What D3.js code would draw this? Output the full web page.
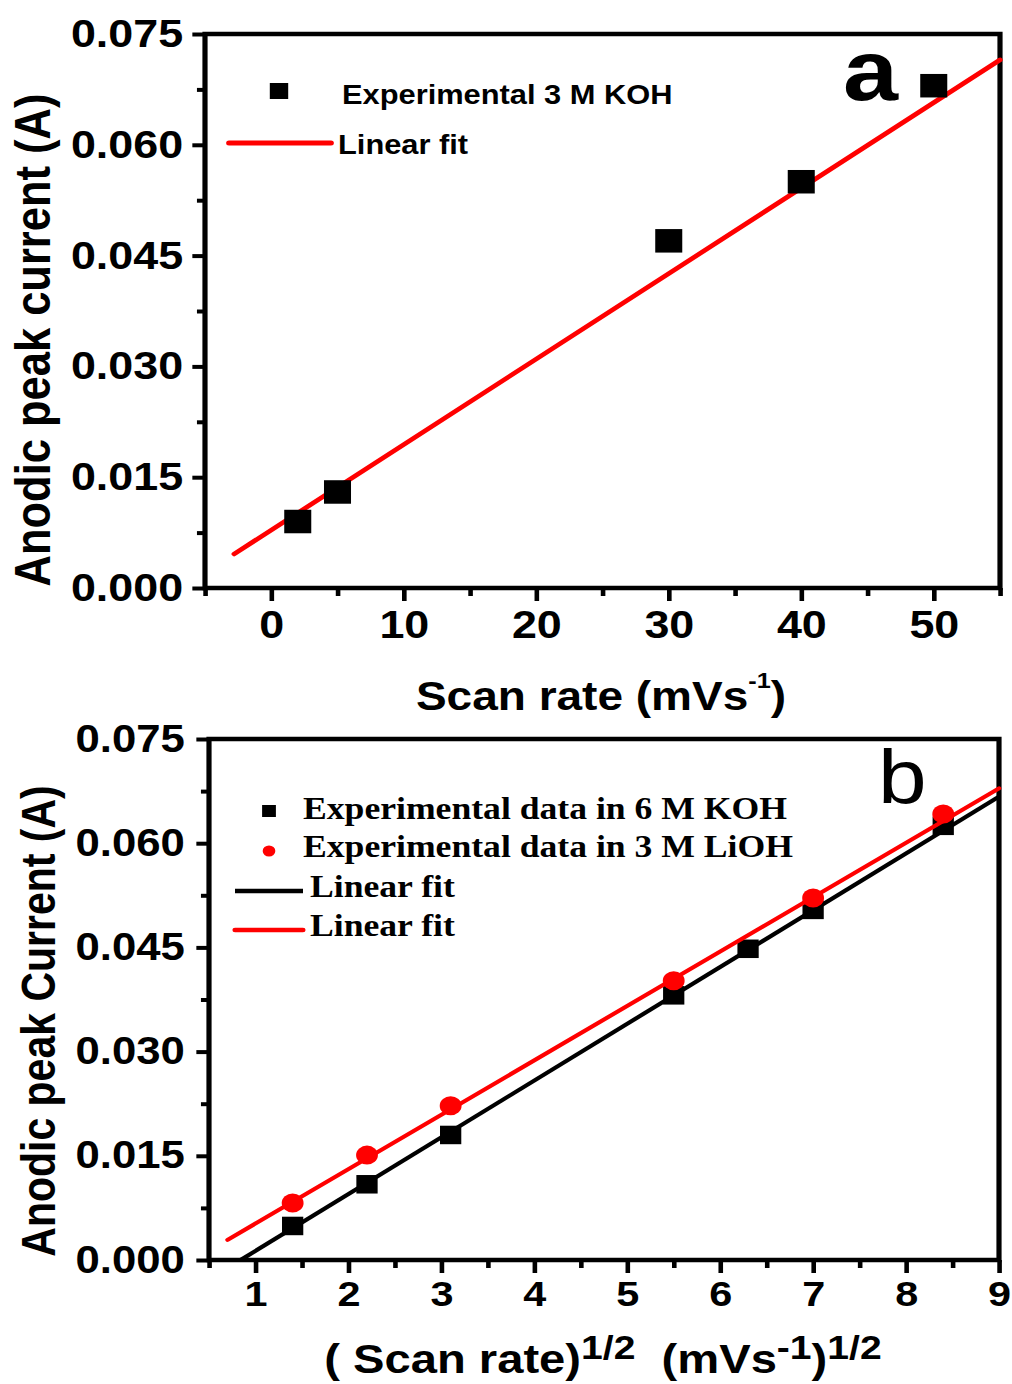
<!DOCTYPE html>
<html>
<head>
<meta charset="utf-8">
<script src="https://cdn.jsdelivr.net/npm/d3@7"></script>
<style>
  html, body { margin: 0; padding: 0; background: #fff; }
  svg { display: block; }
</style>
</head>
<body>
<svg id="chart" width="1012" height="1384"></svg>
<script>
// ---------- Panel (a): anodic peak current vs. scan rate (3 M KOH) ----------
const scanRateA = [2, 5, 30, 40, 50];
const currentA  = [0.009, 0.013, 0.047, 0.055, 0.068];
const fitAX = [-2.8, 55];
const fitAY = [0.0046, 0.0715];
const xTicksA = [0, 10, 20, 30, 40, 50];
const xMinorA = [-5, 5, 15, 25, 35, 45, 55];

// ---------- Panel (b): anodic peak current vs. (scan rate)^1/2 ----------
const sqrtRateKOH  = [1.4, 2.2, 3.1, 5.5, 6.3, 7.0, 8.4];
const currentKOH   = [0.0049, 0.0109, 0.0180, 0.0381, 0.0448, 0.0504, 0.0625];
const sqrtRateLiOH = [1.4, 2.2, 3.1, 5.5, 7.0, 8.4];
const currentLiOH  = [0.0082, 0.0151, 0.0222, 0.0402, 0.0521, 0.0642];
const fitKOHX  = [0.84, 9];
const fitKOHY  = [0.0, 0.0667];
const fitLiOHX = [0.7, 9];
const fitLiOHY = [0.0029, 0.0679];
const xTicksB = [1, 2, 3, 4, 5, 6, 7, 8, 9];
const xMinorB = [0.5, 1.5, 2.5, 3.5, 4.5, 5.5, 6.5, 7.5, 8.5];

// Shared current axis
const yTicks = [0, 0.015, 0.030, 0.045, 0.060, 0.075];
const yMinor = [0.0075, 0.0225, 0.0375, 0.0525, 0.0675];

const SANS  = '"Liberation Sans", Arial, sans-serif';
const SERIF = '"Liberation Serif", "Times New Roman", serif';
const RED = '#ff0000';

// The figure is laid out slightly wide: everything sits in a group that is stretched horizontally.
const SX = 1.15;
const px = v => v / SX;            // page x -> group x

const svg = d3.select('#chart');
svg.append('rect').attr('width', 1012).attr('height', 1384).attr('fill', '#fff');
const root = svg.append('g').attr('transform', `scale(${SX},1)`);

function styleAxis(sel) {
  sel.select('.domain').remove();
  sel.selectAll('line').attr('stroke', '#000').attr('stroke-width', 4);
  sel.selectAll('text')
    .attr('fill', '#000')
    .attr('font-family', SANS)
    .attr('font-weight', 'bold');
}

function makePanel(o) {
  const g = root.append('g');
  const x = d3.scaleLinear().domain(o.xDomain).range([px(o.left), px(o.right)]);
  const y = d3.scaleLinear().domain([0, 0.075]).range([o.bottom, o.top]);

  // minor + major ticks, bottom axis
  g.append('g').attr('transform', `translate(0,${o.bottom})`)
    .call(d3.axisBottom(x).tickValues(o.xMinor).tickSize(8).tickFormat(''))
    .call(styleAxis);
  g.append('g').attr('transform', `translate(0,${o.bottom})`)
    .call(d3.axisBottom(x).tickValues(o.xTicks).tickSize(13).tickPadding(o.xPad).tickFormat(d3.format('d')))
    .call(styleAxis)
    .selectAll('text').attr('font-size', o.xFont);

  // minor + major ticks, left axis
  g.append('g').attr('transform', `translate(${px(o.left)},0)`)
    .call(d3.axisLeft(y).tickValues(yMinor).tickSize(7).tickFormat(''))
    .call(styleAxis);
  g.append('g').attr('transform', `translate(${px(o.left)},0)`)
    .call(d3.axisLeft(y).tickValues(yTicks).tickSize(11).tickPadding(o.yPad).tickFormat(d3.format('.3f')))
    .call(styleAxis)
    .selectAll('text').attr('font-size', o.yFont);

  // frame
  g.append('rect')
    .attr('x', px(o.left)).attr('y', o.top)
    .attr('width', px(o.right) - px(o.left)).attr('height', o.bottom - o.top)
    .attr('fill', 'none').attr('stroke', '#000').attr('stroke-width', 4.5);

  return { g, x, y };
}

const line = (x, y) => d3.line().x(d => x(d[0])).y(d => y(d[1]));

// ===================== Panel (a) =====================
const A = makePanel({
  left: 205, right: 1000, top: 34, bottom: 588,
  xDomain: [-5, 55], xTicks: xTicksA, xMinor: xMinorA,
  xFont: 39, yFont: 39, xPad: 9, yPad: 8
});

A.g.append('path')
  .datum(d3.zip(fitAX, fitAY))
  .attr('d', line(A.x, A.y))
  .attr('fill', 'none').attr('stroke', RED).attr('stroke-width', 4.5).attr('stroke-linecap', 'round');

const sqA = 23.5;
A.g.selectAll('rect.pt')
  .data(d3.zip(scanRateA, currentA))
  .join('rect').attr('class', 'pt')
  .attr('x', d => A.x(d[0]) - sqA / 2).attr('y', d => A.y(d[1]) - sqA / 2)
  .attr('width', sqA).attr('height', sqA).attr('fill', '#000');

// legend (a)
A.g.append('rect').attr('x', px(279) - 8).attr('y', 91 - 8).attr('width', 16).attr('height', 16).attr('fill', '#000');
A.g.append('text').attr('x', px(342)).attr('y', 104)
  .attr('font-family', SANS).attr('font-weight', 'bold').attr('font-size', 26.8)
  .text('Experimental 3 M KOH');
A.g.append('line').attr('x1', px(229)).attr('x2', px(331)).attr('y1', 143).attr('y2', 143)
  .attr('stroke', RED).attr('stroke-width', 5).attr('stroke-linecap', 'round');
A.g.append('text').attr('x', px(338)).attr('y', 154)
  .attr('font-family', SANS).attr('font-weight', 'bold').attr('font-size', 26.8)
  .text('Linear fit');

// panel letter
A.g.append('text').attr('x', px(843)).attr('y', 100)
  .attr('font-family', SANS).attr('font-weight', 'bold').attr('font-size', 86)
  .text('a');

// axis titles (a)
const xtA = A.g.append('text').attr('x', px(601)).attr('y', 710)
  .attr('text-anchor', 'middle')
  .attr('font-family', SANS).attr('font-weight', 'bold').attr('font-size', 40);
xtA.append('tspan').text('Scan rate (mVs');
xtA.append('tspan').attr('font-size', 22).attr('dy', -22).text('-1');
xtA.append('tspan').attr('dy', 22).text(')');

A.g.append('text')
  .attr('transform', `translate(${px(50)},340) rotate(-90)`)
  .attr('text-anchor', 'middle')
  .attr('font-family', SANS).attr('font-weight', 'bold').attr('font-size', 43.5)
  .text('Anodic peak current (A)');

// ===================== Panel (b) =====================
const B = makePanel({
  left: 209, right: 999, top: 739, bottom: 1260,
  xDomain: [0.5, 9], xTicks: xTicksB, xMinor: xMinorB,
  xFont: 36, yFont: 38, xPad: 7.5, yPad: 10
});

B.g.append('path')
  .datum(d3.zip(fitKOHX, fitKOHY))
  .attr('d', line(B.x, B.y))
  .attr('fill', 'none').attr('stroke', '#000').attr('stroke-width', 4);

const sqB = 18.5;
B.g.selectAll('rect.koh')
  .data(d3.zip(sqrtRateKOH, currentKOH))
  .join('rect').attr('class', 'koh')
  .attr('x', d => B.x(d[0]) - sqB / 2).attr('y', d => B.y(d[1]) - sqB / 2)
  .attr('width', sqB).attr('height', sqB).attr('fill', '#000');

B.g.append('path')
  .datum(d3.zip(fitLiOHX, fitLiOHY))
  .attr('d', line(B.x, B.y))
  .attr('fill', 'none').attr('stroke', RED).attr('stroke-width', 4).attr('stroke-linecap', 'round');

B.g.selectAll('circle.lioh')
  .data(d3.zip(sqrtRateLiOH, currentLiOH))
  .join('circle').attr('class', 'lioh')
  .attr('cx', d => B.x(d[0])).attr('cy', d => B.y(d[1]))
  .attr('r', 9.5).attr('fill', RED);

// legend (b)
B.g.append('rect').attr('x', px(269) - 6).attr('y', 811 - 6).attr('width', 12).attr('height', 12).attr('fill', '#000');
B.g.append('circle').attr('cx', px(269)).attr('cy', 851).attr('r', 5.5).attr('fill', RED);
const legB = [
  { t: 'Experimental data in 6 M KOH', x: 303, y: 819 },
  { t: 'Experimental data in 3 M LiOH', x: 303, y: 857 },
  { t: 'Linear fit', x: 310, y: 897 },
  { t: 'Linear fit', x: 310, y: 936 }
];
B.g.selectAll('text.leg')
  .data(legB).join('text').attr('class', 'leg')
  .attr('x', d => px(d.x)).attr('y', d => d.y)
  .attr('font-family', SERIF).attr('font-weight', 'bold').attr('font-size', 31)
  .text(d => d.t);
B.g.append('line').attr('x1', px(235)).attr('x2', px(303)).attr('y1', 891).attr('y2', 891)
  .attr('stroke', '#000').attr('stroke-width', 4.5);
B.g.append('line').attr('x1', px(235)).attr('x2', px(303)).attr('y1', 930).attr('y2', 930)
  .attr('stroke', RED).attr('stroke-width', 4.5).attr('stroke-linecap', 'round');

// panel letter
B.g.append('text').attr('x', px(878)).attr('y', 803)
  .attr('font-family', SANS).attr('font-size', 76)
  .text('b');

// axis titles (b)
const xtB = B.g.append('text').attr('x', px(603)).attr('y', 1373)
  .attr('text-anchor', 'middle')
  .attr('font-family', SANS).attr('font-weight', 'bold').attr('font-size', 41);
xtB.append('tspan').text('( Scan rate)');
xtB.append('tspan').attr('font-size', 34).attr('dy', -14).text('1/2');
xtB.append('tspan').attr('dy', 14).text('\u00a0\u00a0(mVs');
xtB.append('tspan').attr('font-size', 34).attr('dy', -14).text('-1');
xtB.append('tspan').attr('dy', 14).text(')');
xtB.append('tspan').attr('font-size', 34).attr('dy', -14).text('1/2');

B.g.append('text')
  .attr('transform', `translate(${px(55)},1021) rotate(-90)`)
  .attr('text-anchor', 'middle')
  .attr('font-family', SANS).attr('font-weight', 'bold').attr('font-size', 41)
  .text('Anodic peak Current (A)');
</script>
</body>
</html>
